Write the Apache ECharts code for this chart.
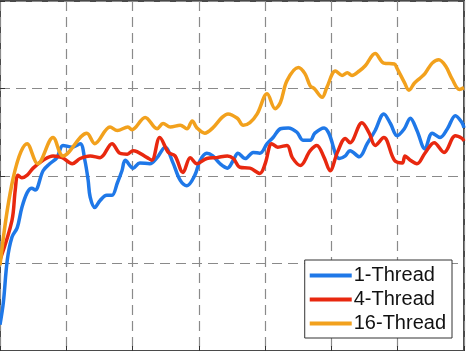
<!DOCTYPE html>
<html>
<head>
<meta charset="utf-8">
<script src="https://cdn.jsdelivr.net/npm/echarts@6/dist/echarts.min.js"></script>
<style>
  html, body { margin: 0; padding: 0; background: #fff; }
  #main { width: 467px; height: 351px; }
</style>
</head>
<body>
<div id="main"></div>
<script>
var seriesNames = ['1-Thread', '4-Thread', '16-Thread'];

var xBlue = [0, 5, 11, 18, 26, 33, 41, 48, 53, 65, 75, 86, 95, 109, 121, 128, 133, 136, 143, 151, 161, 169, 177, 184, 189, 201, 211, 226, 237, 249, 261, 272, 282, 294, 302, 312, 321, 332, 343, 352, 359, 370, 382, 392, 403, 412, 423, 435, 448, 457, 468, 475, 489, 496, 512, 521, 528, 542, 554, 566, 579, 589, 599, 610, 619, 629, 641, 652, 664, 675, 687, 697, 700];
var yBlue = [30, 55, 104, 130, 141, 164, 181, 186, 184, 206, 214, 221, 235, 233, 237, 218, 195, 176, 164, 172, 178, 178, 192, 206, 218, 209, 215, 214, 221, 233, 215, 195, 189, 201, 218, 226, 223, 214, 209, 218, 226, 220, 227, 226, 237, 244, 254, 255, 250, 241, 241, 249, 255, 249, 220, 223, 229, 222, 237, 252, 271, 260, 246, 254, 266, 252, 231, 249, 244, 254, 269, 261, 255];

var xRed = [0, 18, 23, 27, 33, 41, 50, 65, 80, 94, 109, 121, 136, 151, 169, 181, 192, 201, 222, 229, 241, 254, 264, 276, 287, 297, 312, 327, 343, 352, 362, 377, 392, 400, 410, 419, 433, 441, 453, 468, 478, 489, 498, 509, 521, 528, 546, 557, 566, 579, 595, 607, 611, 619, 629, 641, 655, 670, 687, 697, 700];
var yRed = [104, 149, 184, 201, 198, 201, 209, 218, 223, 221, 214, 220, 223, 221, 237, 226, 225, 229, 221, 218, 244, 227, 223, 204, 221, 214, 220, 221, 223, 220, 210, 209, 203, 214, 237, 233, 235, 221, 212, 229, 235, 221, 206, 227, 243, 238, 261, 249, 235, 244, 218, 215, 223, 218, 214, 226, 238, 227, 246, 243, 240];

var xOrange = [0, 20, 41, 57, 80, 95, 131, 143, 166, 177, 193, 199, 219, 237, 246, 257, 272, 282, 290, 297, 309, 321, 335, 344, 358, 367, 377, 388, 403, 415, 423, 433, 450, 460, 468, 474, 486, 493, 506, 516, 524, 531, 542, 551, 566, 579, 595, 599, 610, 617, 625, 634, 641, 652, 662, 672, 682, 693, 700];
var yOrange = [98, 198, 237, 214, 244, 223, 249, 237, 256, 252, 256, 253, 267, 254, 260, 256, 258, 254, 263, 255, 249, 255, 267, 271, 266, 258, 261, 271, 294, 277, 284, 309, 324, 317, 303, 300, 290, 301, 320, 315, 318, 315, 320, 326, 340, 329, 328, 323, 307, 298, 306, 312, 317, 329, 333, 326, 311, 299, 301];

var colors = ['#1f78e8', '#e8280f', '#f2a11d'];

function pairs(xs, ys) {
    var out = [];
    for (var i = 0; i < xs.length; i++) out.push([xs[i], ys[i]]);
    return out;
}

var chart = echarts.init(document.getElementById('main'));

var gridLine = { show: true, lineStyle: { color: '#8a8a8a', width: 1.2, type: [10, 6] } };

var option = {
    animation: false,
    color: colors,
    grid: { left: 0, right: 3, top: 1, bottom: 0, show: true, borderColor: '#4a4a4a', borderWidth: 2 },
    legend: {
        orient: 'vertical',
        right: 15,
        top: 260,
        itemWidth: 42,
        itemHeight: 4,
        itemGap: 3,
        icon: 'rect',
        backgroundColor: '#fff',
        borderColor: '#333',
        borderWidth: 1,
        padding: [5, 6, 4, 5],
        textStyle: { fontFamily: 'Liberation Sans', fontSize: 20, lineHeight: 21, color: '#111', padding: [0, 0, 0, -3] },
        data: seriesNames
    },
    xAxis: [
        {
            type: 'value', min: 0, max: 700, interval: 100,
            axisLabel: { show: false },
            axisLine: { show: false },
            axisTick: { show: true, inside: true, length: 5, lineStyle: { color: '#333' } },
            splitLine: gridLine
        },
        {
            type: 'value', min: 0, max: 700, interval: 100, position: 'top',
            axisLabel: { show: false }, axisLine: { show: false },
            axisTick: { show: true, inside: true, length: 5, lineStyle: { color: '#333' } },
            splitLine: { show: false }
        }
    ],
    yAxis: [
        {
            type: 'value', min: 0, max: 400, interval: 100,
            axisLabel: { show: false },
            axisLine: { show: false },
            axisTick: { show: true, inside: true, length: 5, lineStyle: { color: '#333' } },
            splitLine: gridLine
        },
        {
            type: 'value', min: 0, max: 400, interval: 100, position: 'right',
            axisLabel: { show: false }, axisLine: { show: false },
            axisTick: { show: true, inside: true, length: 5, lineStyle: { color: '#333' } },
            splitLine: { show: false }
        }
    ],
    series: [
        { name: seriesNames[0], type: 'line', data: pairs(xBlue, yBlue) },
        { name: seriesNames[1], type: 'line', data: pairs(xRed, yRed) },
        { name: seriesNames[2], type: 'line', data: pairs(xOrange, yOrange) }
    ].map(function (s) {
        s.smooth = 0.35;
        s.showSymbol = false;
        s.lineStyle = { width: 3.5 };
        return s;
    })
};

chart.setOption(option);
</script>
</body>
</html>
